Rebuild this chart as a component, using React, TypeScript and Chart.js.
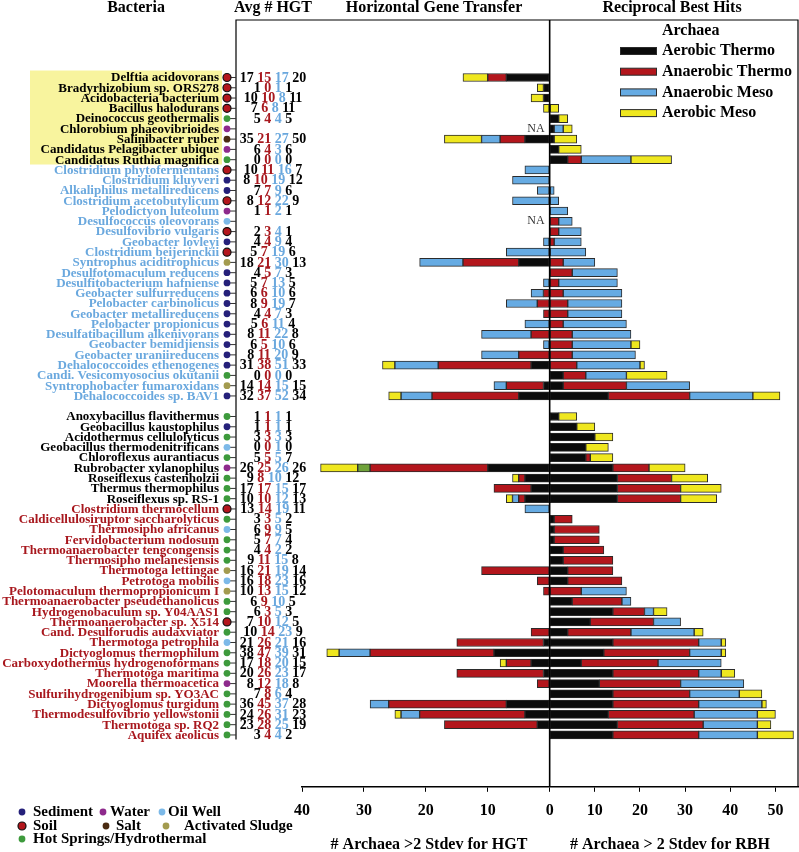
import React, { useEffect, useRef } from 'react';
import { Chart, registerables } from 'chart.js';

Chart.register(...registerables);

const FONT = '"Liberation Serif", "Times New Roman", serif';

// ---------------- categories ----------------
const highlightedBacteria = ['Delftia acidovorans', 'Bradyrhizobium sp. ORS278', 'Acidobacteria bacterium', 'Bacillus halodurans', 'Deinococcus geothermalis', 'Chlorobium phaeovibrioides', 'Salinibacter ruber', 'Candidatus Pelagibacter ubique', 'Candidatus Ruthia magnifica'];
const mesoBacteria = ['Clostridium phytofermentans', 'Clostridium kluyveri', 'Alkaliphilus metallireducens', 'Clostridium acetobutylicum', 'Pelodictyon luteolum', 'Desulfococcus oleovorans', 'Desulfovibrio vulgaris', 'Geobacter lovleyi', 'Clostridium beijerinckii', 'Syntrophus aciditrophicus', 'Desulfotomaculum reducens', 'Desulfitobacterium hafniense', 'Geobacter sulfurreducens', 'Pelobacter carbinolicus', 'Geobacter metallireducens', 'Pelobacter propionicus', 'Desulfatibacillum alkenivorans', 'Geobacter bemidjiensis', 'Geobacter uraniireducens', 'Dehalococcoides ethenogenes', 'Candi. Vesicomyosocius okutanii', 'Syntrophobacter fumaroxidans', 'Dehalococcoides sp. BAV1'];
const aerobicThermoBacteria = ['Anoxybacillus flavithermus', 'Geobacillus kaustophilus', 'Acidothermus cellulolyticus', 'Geobacillus thermodenitrificans', 'Chloroflexus aurantiacus', 'Rubrobacter xylanophilus', 'Roseiflexus castenholzii', 'Thermus thermophilus', 'Roseiflexus sp. RS-1'];
const anaerobicThermoBacteria = ['Clostridium thermocellum', 'Caldicellulosiruptor saccharolyticus', 'Thermosipho africanus', 'Fervidobacterium nodosum', 'Thermoanaerobacter tengcongensis', 'Thermosipho melanesiensis', 'Thermotoga lettingae', 'Petrotoga mobilis', 'Pelotomaculum thermopropionicum I', 'Thermoanaerobacter pseudethanolicus', 'Hydrogenobaculum sp. Y04AAS1', 'Thermoanaerobacter sp. X514', 'Cand. Desulforudis audaxviator', 'Thermotoga petrophila', 'Dictyoglomus thermophilum', 'Carboxydothermus hydrogenoformans', 'Thermotoga maritima', 'Moorella thermoacetica', 'Sulfurihydrogenibium sp. YO3AC', 'Dictyoglomus turgidum', 'Thermodesulfovibrio yellowstonii', 'Thermotoga sp. RQ2', 'Aquifex aeolicus'];

const bacteria = [...highlightedBacteria, ...mesoBacteria, '', ...aerobicThermoBacteria, ...anaerobicThermoBacteria];
const labelColorOfGroup = ['#000000', '#6aa8de', '#000000', '#a8181e'];
const groupOfRow = [
  ...highlightedBacteria.map(() => 0), ...mesoBacteria.map(() => 1), -1,
  ...aerobicThermoBacteria.map(() => 2), ...anaerobicThermoBacteria.map(() => 3),
];

// environment of each bacterium
const environment = [
  'soil', 'soil', 'soil', 'soil', 'hot', 'water', 'salt', 'water', 'hot',
  'soil', 'sed', 'sed', 'soil', 'water', 'oil', 'soil', 'sed', 'soil', 'sludge', 'sed', 'sed', 'sed', 'sed', 'sed', 'sed', 'sed', 'sed', 'sed', 'sed', 'hot', 'sludge', 'sed',
  '',
  'hot', 'sed', 'hot', 'oil', 'hot', 'water', 'hot', 'hot', 'hot',
  'soil', 'hot', 'oil', 'hot', 'hot', 'hot', 'sludge', 'oil', 'sludge', 'hot', 'hot', 'soil', 'hot', 'oil', 'hot', 'hot', 'hot', 'water', 'hot', 'hot', 'hot', 'hot', 'hot',
];

// Avg # HGT column (4 numbers per bacterium)
const avgHgt1 = [17, 1, 10, 7, 5, null, 35, 6, 0, 10, 8, 7, 8, 1, null, 2, 4, 5, 18, 4, 5, 6, 8, 4, 5, 8, 6, 8, 31, 0, 14, 32, null, 1, 1, 3, 0, 5, 26, 9, 17, 10, 13, 3, 6, 5, 4, 9, 16, 16, 10, 6, 6, 7, 10, 21, 38, 17, 20, 8, 7, 36, 24, 23, 3];
const avgHgt2 = [15, 0, 10, 6, 4, null, 21, 4, 0, 11, 10, 7, 12, 1, null, 3, 4, 7, 21, 5, 7, 6, 9, 4, 6, 11, 5, 11, 38, 0, 14, 37, null, 1, 1, 3, 0, 5, 25, 8, 17, 10, 14, 3, 9, 7, 4, 11, 21, 18, 13, 9, 3, 10, 14, 26, 47, 18, 26, 12, 8, 45, 26, 28, 4];
const avgHgt3 = [17, 1, 8, 8, 4, null, 27, 3, 0, 16, 19, 9, 22, 2, null, 4, 9, 19, 30, 7, 13, 10, 19, 7, 11, 22, 10, 20, 51, 0, 15, 52, null, 1, 1, 3, 1, 5, 26, 10, 15, 12, 19, 5, 9, 7, 2, 15, 19, 23, 15, 10, 5, 12, 23, 21, 39, 20, 23, 18, 6, 37, 31, 25, 4];
const avgHgt4 = [20, 1, 11, 11, 5, null, 50, 6, 0, 7, 12, 6, 9, 1, null, 1, 4, 6, 13, 3, 5, 6, 7, 3, 4, 8, 6, 9, 33, 0, 15, 34, null, 1, 1, 3, 0, 7, 26, 12, 17, 13, 11, 2, 5, 4, 2, 8, 14, 16, 12, 5, 3, 5, 9, 16, 31, 15, 17, 8, 4, 28, 23, 19, 2];

// Horizontal gene transfer (# archaea > 2 stdev), by archaeal group
const hgtAerobicThermo = [7, 1, 1, 0, 0, 0, 4, 0, 0, 0, 0, 0, 0, 0, 0, 0, 0, 0, 5, 0, 0, 0, 0, 0, 0, 0, 0, 0, 3, 0, 1, 5, 0, 0, 0, 0, 0, 0, 10, 4, 3, 4, 0, 0, 0, 0, 0, 0, 0, 0, 0, 0, 0, 0, 0, 1, 9, 3, 1, 0, 0, 7, 4, 2, 0];
const hgtAnaerobicThermo = [3, 0, 0, 0, 0, 0, 4, 0, 0, 0, 0, 0, 0, 0, 0, 0, 0, 0, 9, 0, 0, 1, 2, 1, 0, 3, 0, 5, 15, 0, 6, 14, 0, 0, 0, 0, 0, 0, 19, 1, 6, 1, 0, 0, 0, 0, 0, 0, 11, 2, 1, 0, 0, 0, 3, 14, 20, 4, 14, 2, 0, 19, 17, 15, 0];
const hgtAnaerobicMeso = [0, 0, 0, 0, 0, 0, 3, 0, 0, 4, 6, 2, 6, 0, 0, 0, 1, 7, 7, 0, 1, 2, 5, 0, 4, 8, 1, 6, 7, 0, 2, 5, 0, 0, 0, 0, 0, 0, 0, 0, 0, 1, 4, 0, 0, 0, 0, 0, 0, 0, 0, 0, 0, 0, 0, 0, 5, 0, 0, 0, 0, 3, 3, 0, 0];
const hgtOther = [0, 0, 0, 0, 0, 0, 0, 0, 0, 0, 0, 0, 0, 0, 0, 0, 0, 0, 0, 0, 0, 0, 0, 0, 0, 0, 0, 0, 0, 0, 0, 0, 0, 0, 0, 0, 0, 0, 2, 0, 0, 0, 0, 0, 0, 0, 0, 0, 0, 0, 0, 0, 0, 0, 0, 0, 0, 0, 0, 0, 0, 0, 0, 0, 0];
const hgtAerobicMeso = [4, 1, 2, 1, 0, 0, 6, 0, 0, 0, 0, 0, 0, 0, 0, 0, 0, 0, 0, 0, 0, 0, 0, 0, 0, 0, 0, 0, 2, 0, 0, 2, 0, 0, 0, 0, 0, 0, 6, 1, 0, 1, 0, 0, 0, 0, 0, 0, 0, 0, 0, 0, 0, 0, 0, 0, 2, 1, 0, 0, 0, 0, 1, 0, 0];
const hgtNotAvailable = [5, 14];

// Reciprocal best hits (# archaea > 2 stdev), by archaeal group
const rbhAerobicThermo = [0, 0, 0, 0, 2, 1, 1, 2, 4, 0, 0, 0, 0, 0, 0, 0, 0, 0, 0, 0, 0, 0, 0, 0, 0, 0, 0, 0, 0, 3, 3, 13, 0, 2, 6, 10, 8, 8, 14, 15, 15, 15, 0, 1, 1, 1, 3, 3, 4, 4, 0, 5, 14, 9, 4, 14, 12, 7, 14, 11, 14, 14, 13, 15, 14];
const rbhAnaerobicThermo = [0, 0, 0, 0, 0, 0, 0, 0, 3, 0, 0, 0, 0, 0, 2, 2, 1, 0, 3, 5, 2, 3, 4, 4, 3, 5, 5, 5, 6, 5, 14, 18, 0, 0, 0, 0, 0, 1, 8, 12, 14, 14, 0, 4, 10, 10, 9, 11, 10, 12, 7, 11, 7, 14, 14, 19, 19, 17, 19, 18, 17, 19, 19, 19, 19];
const rbhAnaerobicMeso = [0, 0, 0, 0, 0, 2, 0, 0, 11, 0, 0, 1, 2, 4, 3, 5, 6, 8, 7, 10, 13, 13, 12, 12, 14, 13, 13, 14, 14, 9, 14, 14, 0, 0, 0, 0, 0, 0, 0, 0, 0, 0, 0, 0, 0, 0, 0, 0, 0, 0, 10, 2, 2, 6, 14, 5, 7, 14, 5, 14, 11, 14, 14, 12, 13];
const rbhAerobicMeso = [0, 0, 0, 2, 2, 2, 5, 5, 9, 0, 0, 0, 0, 0, 0, 0, 0, 0, 0, 0, 0, 0, 0, 0, 0, 0, 2, 0, 1, 9, 0, 6, 0, 4, 4, 4, 5, 5, 8, 8, 9, 8, 0, 0, 0, 0, 0, 0, 0, 0, 0, 0, 3, 0, 2, 1, 1, 0, 3, 0, 5, 1, 4, 3, 8];

const hgtTicks = [40, 30, 20, 10];
const rbhTicks = [0, 10, 20, 30, 40, 50];
const archaeaLegend = ['Aerobic Thermo', 'Anaerobic Thermo', 'Anaerobic Meso', 'Aerobic Meso'];
const envLegend = [
  { env: 'sed', label: 'Sediment' }, { env: 'water', label: 'Water' }, { env: 'oil', label: 'Oil Well' },
  { env: 'soil', label: 'Soil' }, { env: 'salt', label: 'Salt' }, { env: 'sludge', label: 'Activated Sludge' },
  { env: 'hot', label: 'Hot Springs/Hydrothermal' },
];

// ---------------- styles ----------------
const K = 6.19 / 4.514; // HGT half uses a wider unit than the RBH half
const BAR = { black: '#0b0b0b', red: '#b3161c', blue: '#66abe3', yellow: '#efe71f', green: '#6fa23a' };
const ENV_COLOR: Record<string, string> = { sed: '#25207a', water: '#8e2a8c', oil: '#7cb9e8', soil: '#b3161c', salt: '#4a2b12', sludge: '#a39b4f', hot: '#3d9a3c' };
const NUM_COLORS = ['#000000', '#a8181e', '#6aa8de', '#000000'];
const legendSwatch = [BAR.black, BAR.red, BAR.blue, BAR.yellow];
const envLegendPos = [[22, 812, 33], [103, 812, 110], [162, 812, 168], [22, 826, 33], [106, 826, 116], [166, 826, 184], [22, 839, 33]];

const toPoints = (vals: number[], left: boolean) =>
  vals.flatMap((v, i) => (v ? [{ x: left ? -v * K : v, y: i }] : []));

const mkSet = (label: string, vals: number[], left: boolean, color: string) => ({
  label,
  data: toPoints(vals, left),
  backgroundColor: color,
  borderColor: '#2b2b2b',
  borderWidth: 1,
  borderSkipped: false,
  barThickness: 8,
});

function drawDot(ctx: CanvasRenderingContext2D, x: number, y: number, env: string) {
  ctx.beginPath();
  const soil = env === 'soil';
  ctx.arc(x, y, soil ? 4 : 3.4, 0, Math.PI * 2);
  ctx.fillStyle = ENV_COLOR[env];
  ctx.fill();
  if (soil) {
    ctx.lineWidth = 1.2;
    ctx.strokeStyle = '#111';
    ctx.stroke();
  }
}

const overlay = {
  id: 'overlay',
  beforeDraw(chart: any) {
    const ctx = chart.ctx as CanvasRenderingContext2D;
    const ys = chart.scales.y;
    ctx.save();
    ctx.fillStyle = '#ffffff';
    ctx.fillRect(0, 0, chart.width, chart.height);
    const t = ys.getPixelForValue(-0.68);
    const b = ys.getPixelForValue(8.47);
    ctx.fillStyle = '#f8f49e';
    ctx.fillRect(30, t, 192, b - t);
    ctx.restore();
  },
  afterDatasetsDraw(chart: any) {
    const ctx = chart.ctx as CanvasRenderingContext2D;
    const xs = chart.scales.x;
    const ys = chart.scales.y;
    const { top, bottom, right } = chart.chartArea;
    ctx.save();
    ctx.strokeStyle = '#000';
    // frame
    ctx.lineWidth = 1.2;
    ctx.beginPath();
    ctx.moveTo(236, ys.getPixelForValue(64.45));
    ctx.lineTo(236, top);
    ctx.lineTo(right, top);
    ctx.lineTo(right, bottom);
    ctx.stroke();
    // zero line
    const x0 = xs.getPixelForValue(0);
    ctx.lineWidth = 1.6;
    ctx.beginPath();
    ctx.moveTo(x0, top);
    ctx.lineTo(x0, bottom);
    ctx.stroke();
    // NA marks
    ctx.fillStyle = '#333';
    ctx.font = `12px ${FONT}`;
    ctx.textAlign = 'right';
    ctx.textBaseline = 'middle';
    hgtNotAvailable.forEach((r) => ctx.fillText('NA', x0 - 5, ys.getPixelForValue(r)));
    ctx.restore();
  },
  afterDraw(chart: any) {
    const ctx = chart.ctx as CanvasRenderingContext2D;
    const ys = chart.scales.y;
    ctx.save();
    ctx.textBaseline = 'middle';
    // headers
    ctx.fillStyle = '#000';
    ctx.font = `bold 16px ${FONT}`;
    ctx.textAlign = 'center';
    ctx.fillText('Bacteria', 136, 8);
    ctx.fillText('Avg # HGT', 273, 8);
    ctx.fillText('Horizontal Gene Transfer', 434, 8);
    ctx.fillText('Reciprocal Best Hits', 672, 8);
    // axis titles
    ctx.fillText('# Archaea >2 Stdev for HGT', 429, 845);
    ctx.fillText('# Archaea > 2 Stdev for RBH', 670, 845);

    bacteria.forEach((name, i) => {
      if (!name) return;
      const y = ys.getPixelForValue(i);
      ctx.font = `bold 13px ${FONT}`;
      ctx.textAlign = 'right';
      ctx.fillStyle = labelColorOfGroup[groupOfRow[i]];
      ctx.fillText(name, 219, y + 0.5);
      // connector + dot
      ctx.strokeStyle = '#333';
      ctx.lineWidth = 1;
      ctx.beginPath();
      ctx.moveTo(229, y);
      ctx.lineTo(236, y);
      ctx.stroke();
      drawDot(ctx, 227, y, environment[i]);
      // avg numbers
      const nums = [avgHgt1[i], avgHgt2[i], avgHgt3[i], avgHgt4[i]];
      if (nums[0] === null) return;
      ctx.font = `bold 14px ${FONT}`;
      ctx.textAlign = 'left';
      const strs = nums.map((n) => String(n));
      const sp = ctx.measureText(' ').width;
      const widths = strs.map((s) => ctx.measureText(s).width);
      const total = widths.reduce((a, b) => a + b, 0) + sp * 3;
      let x = 273 - total / 2;
      strs.forEach((s, k) => {
        ctx.fillStyle = NUM_COLORS[k];
        ctx.fillText(s, x, y + 0.5);
        x += widths[k] + sp;
      });
    });

    // archaea legend
    ctx.textAlign = 'left';
    ctx.fillStyle = '#000';
    ctx.font = `bold 16px ${FONT}`;
    ctx.fillText('Archaea', 662, 31);
    archaeaLegend.forEach((lab, k) => {
      const y = 51 + k * 20.7;
      ctx.fillStyle = legendSwatch[k];
      ctx.fillRect(620, y - 3.5, 37, 7);
      ctx.strokeStyle = '#2b2b2b';
      ctx.lineWidth = 1;
      ctx.strokeRect(620.5, y - 3.5, 36, 7);
      ctx.fillStyle = '#000';
      ctx.fillText(lab, 662, y);
    });

    // environment legend
    envLegend.forEach((it, k) => {
      const [dx, dy, tx] = envLegendPos[k];
      drawDot(ctx, dx, dy, it.env);
      ctx.fillStyle = '#000';
      ctx.font = `bold 15px ${FONT}`;
      ctx.fillText(it.label, tx, dy);
    });
    ctx.restore();
  },
};

export default function App() {
  const ref = useRef<HTMLCanvasElement>(null);
  useEffect(() => {
    const tickValues = [...hgtTicks.map((v) => -v * K), ...rbhTicks];
    const chart = new Chart(ref.current as HTMLCanvasElement, {
      type: 'bar',
      data: {
        datasets: [
          mkSet('HGT Aerobic Thermo', hgtAerobicThermo, true, BAR.black),
          mkSet('HGT Anaerobic Thermo', hgtAnaerobicThermo, true, BAR.red),
          mkSet('HGT Anaerobic Meso', hgtAnaerobicMeso, true, BAR.blue),
          mkSet('HGT Other', hgtOther, true, BAR.green),
          mkSet('HGT Aerobic Meso', hgtAerobicMeso, true, BAR.yellow),
          mkSet('RBH Aerobic Thermo', rbhAerobicThermo, false, BAR.black),
          mkSet('RBH Anaerobic Thermo', rbhAnaerobicThermo, false, BAR.red),
          mkSet('RBH Anaerobic Meso', rbhAnaerobicMeso, false, BAR.blue),
          mkSet('RBH Aerobic Meso', rbhAerobicMeso, false, BAR.yellow),
        ] as any,
      },
      options: {
        indexAxis: 'y',
        responsive: false,
        maintainAspectRatio: false,
        animation: false,
        layout: { padding: { left: 302, right: 1, top: 20, bottom: 23 } },
        plugins: { legend: { display: false }, tooltip: { enabled: false }, title: { display: false } },
        scales: {
          x: {
            type: 'linear',
            stacked: true,
            position: 'bottom',
            bounds: 'data',
            min: -40 * K,
            max: 55,
            afterBuildTicks: (s: any) => {
              s.ticks = tickValues.map((v) => ({ value: v }));
            },
            ticks: {
              autoSkip: false,
              maxRotation: 0,
              padding: 9,
              color: '#000',
              font: { family: FONT, size: 16, weight: 'bold' },
              callback: (v: any) => (v < 0 ? String(Math.round(-v / K)) : String(v)),
            },
            grid: { display: true, drawOnChartArea: false, drawTicks: true, tickLength: 5, color: '#000' },
            border: { display: true, color: '#000', width: 1.5 },
          },
          y: {
            type: 'linear',
            stacked: true,
            reverse: true,
            min: -1.45,
            max: 64.9,
            display: false,
          },
        },
      } as any,
      plugins: [overlay as any],
    });
    return () => chart.destroy();
  }, []);
  return (
    <div style={{ position: 'absolute', left: 0, top: 0, width: 799, height: 852, background: '#fff' }}>
      <canvas ref={ref} width={799} height={852} style={{ display: 'block' }} />
    </div>
  );
}
